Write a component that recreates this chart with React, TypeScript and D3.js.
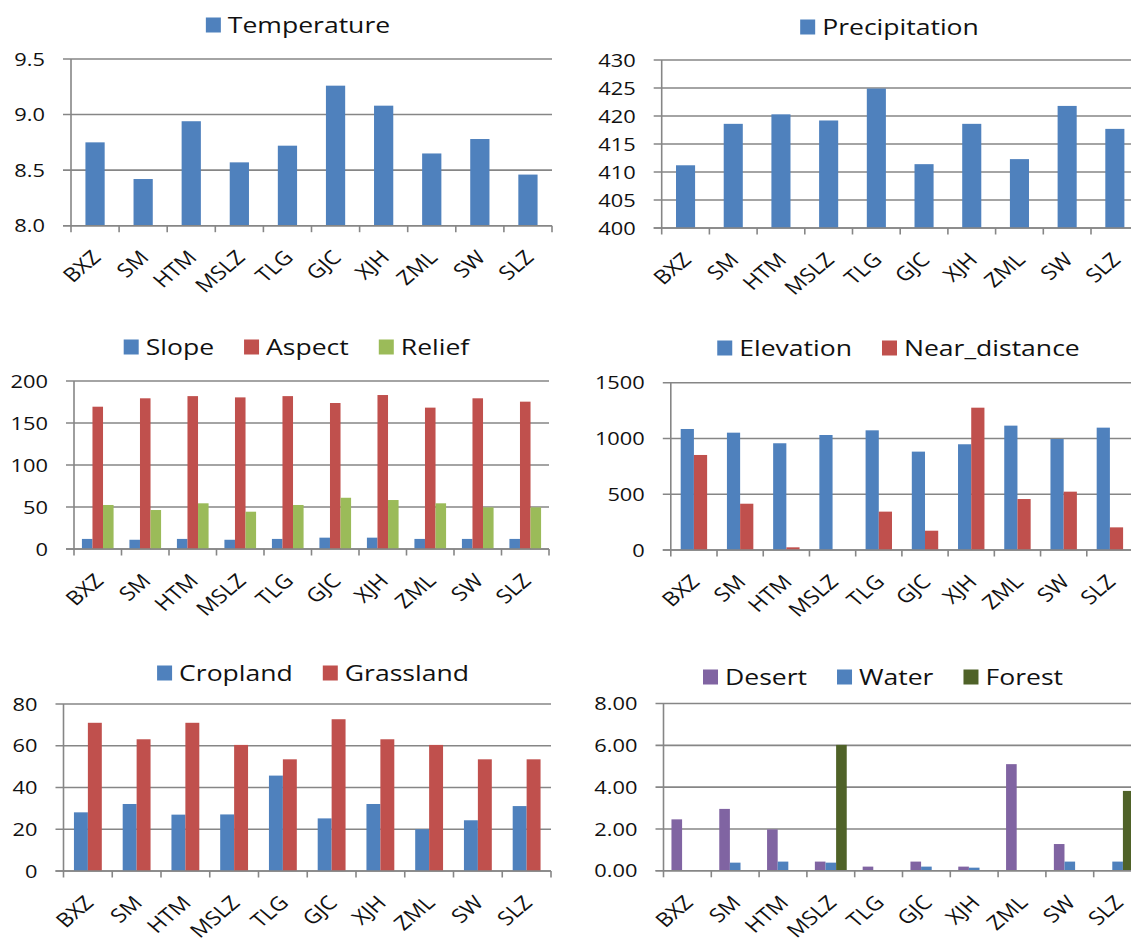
import React, { useEffect, useRef } from "react";
import * as d3 from "d3";

const categories = ["BXZ", "SM", "HTM", "MSLZ", "TLG", "GJC", "XJH", "ZML", "SW", "SLZ"];

const temperature = [8.75, 8.42, 8.94, 8.57, 8.72, 9.26, 9.08, 8.65, 8.78, 8.46];
const precipitation = [411.2, 418.6, 420.3, 419.2, 424.9, 411.4, 418.6, 412.3, 421.8, 417.7];
const slope = [12, 11, 12, 11, 12, 13.5, 13.5, 12, 12, 12];
const aspect = [169.4, 179.4, 182, 180.5, 182, 173.8, 183.3, 168.3, 179.4, 175.4];
const relief = [52.4, 46.4, 54.4, 44.4, 52.4, 61, 58.3, 54.4, 49.6, 49.6];
const elevation = [1085, 1052, 957, 1031, 1073, 882, 948, 1115, 995, 1097];
const nearDistance = [852, 415, 24, 0, 344, 173, 1276, 457, 523, 203];
const cropland = [28.1, 32.1, 27, 27.1, 45.7, 25.2, 32.1, 20, 24.3, 31.1];
const grassland = [71, 63.1, 71, 60.4, 53.5, 72.7, 63.1, 60.4, 53.5, 53.5];
const desert = [2.46, 2.96, 1.98, 0.44, 0.2, 0.44, 0.2, 5.1, 1.28, 0];
const water = [0, 0.39, 0.44, 0.39, 0, 0.2, 0.15, 0, 0.44, 0.44];
const forest = [0, 0, 0, 6.02, 0, 0, 0, 0, 0, 3.82];

const temperatureTicks = [8.0, 8.5, 9.0, 9.5];
const precipitationTicks = [400, 405, 410, 415, 420, 425, 430];
const terrainTicks = [0, 50, 100, 150, 200];
const elevationTicks = [0, 500, 1000, 1500];
const landTicks = [0, 20, 40, 60, 80];
const minorLandTicks = [0, 2, 4, 6, 8];

const BLUE = "#4F81BD";
const RED = "#C0504D";
const GREEN = "#9BBB59";
const PURPLE = "#8064A2";
const DKGREEN = "#4F6228";

const FONT = "'Open Sans', 'Liberation Sans', sans-serif";
const STRETCH = 1.18;
const GRID = "#868686";
const INK = "#111111";

type Series = { name: string; values: number[]; color: string };
type Panel = {
  left: number; right: number; top: number; bottom: number;
  ticks: number[]; fmt: string; legendY: number; legendCx: number;
  series: Series[];
};

const panels: Panel[] = [
  { left: 71, right: 552, top: 59, bottom: 225.7, ticks: temperatureTicks, fmt: ".1f", legendY: 25, legendCx: 298,
    series: [{ name: "Temperature", values: temperature, color: BLUE }] },
  { left: 661.7, right: 1138.7, top: 60, bottom: 228, ticks: precipitationTicks, fmt: "d", legendY: 27, legendCx: 889.5,
    series: [{ name: "Precipitation", values: precipitation, color: BLUE }] },
  { left: 74, right: 549, top: 381, bottom: 549, ticks: terrainTicks, fmt: "d", legendY: 347, legendCx: 296.5,
    series: [
      { name: "Slope", values: slope, color: BLUE },
      { name: "Aspect", values: aspect, color: RED },
      { name: "Relief", values: relief, color: GREEN },
    ] },
  { left: 670.8, right: 1133, top: 382.7, bottom: 550, ticks: elevationTicks, fmt: "d", legendY: 348, legendCx: 898.5,
    series: [
      { name: "Elevation", values: elevation, color: BLUE },
      { name: "Near_distance", values: nearDistance, color: RED },
    ] },
  { left: 63.5, right: 551, top: 704, bottom: 871, ticks: landTicks, fmt: "d", legendY: 673, legendCx: 313,
    series: [
      { name: "Cropland", values: cropland, color: BLUE },
      { name: "Grassland", values: grassland, color: RED },
    ] },
  { left: 663.5, right: 1141.5, top: 703.5, bottom: 870.8, ticks: minorLandTicks, fmt: ".2f", legendY: 677, legendCx: 883,
    series: [
      { name: "Desert", values: desert, color: PURPLE },
      { name: "Water", values: water, color: BLUE },
      { name: "Forest", values: forest, color: DKGREEN },
    ] },
];

function drawPanel(svg: d3.Selection<SVGSVGElement, unknown, null, undefined>, p: Panel) {
  const g = svg.append("g");
  const domain = [p.ticks[0], p.ticks[p.ticks.length - 1]];
  const y = d3.scaleLinear().domain(domain).range([p.bottom, p.top]);
  const x = d3.scaleBand<string>().domain(categories).range([p.left, p.right]).paddingInner(0).paddingOuter(0);
  const n = p.series.length;
  const groupW = x.bandwidth() * n / (n + 1.5);
  const inner = d3.scaleBand<number>().domain(d3.range(n)).range([-groupW / 2, groupW / 2]);

  // gridlines + y tick labels
  const fmt = d3.format(p.fmt);
  p.ticks.forEach((t) => {
    g.append("line")
      .attr("x1", p.left - 8).attr("x2", p.right)
      .attr("y1", y(t)).attr("y2", y(t))
      .attr("stroke", GRID).attr("stroke-width", 1.6);
    g.append("g")
      .attr("transform", `translate(${p.left - 26},${y(t)}) scale(${STRETCH},1)`)
      .append("text")
      .attr("text-anchor", "end").attr("dy", "0.36em")
      .attr("font-family", FONT).attr("font-size", 18.5).attr("fill", INK)
      .text(fmt(t));
  });

  // bars
  p.series.forEach((s, si) => {
    g.append("g").selectAll("rect")
      .data(s.values.map((v, i) => ({ v, c: categories[i] })).filter((d) => d.v > domain[0]))
      .join("rect")
      .attr("x", (d) => (x(d.c) as number) + x.bandwidth() / 2 + (inner(si) as number))
      .attr("width", inner.bandwidth())
      .attr("y", (d) => y(d.v))
      .attr("height", (d) => y(domain[0]) - y(d.v))
      .attr("fill", s.color);
  });

  // axes
  g.append("line")
    .attr("x1", p.left).attr("x2", p.left).attr("y1", p.top).attr("y2", p.bottom)
    .attr("stroke", GRID).attr("stroke-width", 1.6);
  g.append("line")
    .attr("x1", p.left - 8).attr("x2", p.right).attr("y1", p.bottom).attr("y2", p.bottom)
    .attr("stroke", GRID).attr("stroke-width", 1.6);
  const bounds = categories.map((c) => x(c) as number).concat([p.right]);
  bounds.forEach((bx) => {
    g.append("line")
      .attr("x1", bx).attr("x2", bx).attr("y1", p.bottom).attr("y2", p.bottom + 6.5)
      .attr("stroke", GRID).attr("stroke-width", 1.6);
  });

  // x labels
  categories.forEach((c) => {
    const cx = (x(c) as number) + x.bandwidth() / 2;
    g.append("g")
      .attr("transform", `translate(${cx + 7},${p.bottom + 33}) scale(${STRETCH},1) rotate(-45)`)
      .append("text")
      .attr("text-anchor", "end")
      .attr("font-family", FONT).attr("font-size", 19.5).attr("fill", INK)
      .text(c);
  });

  // legend
  const lg = g.append("g");
  let cursor = 0;
  const sq = 15;
  p.series.forEach((s, si) => {
    lg.append("rect")
      .attr("x", cursor).attr("y", p.legendY - sq / 2)
      .attr("width", sq).attr("height", sq).attr("fill", s.color);
    cursor += sq + 7;
    const tg = lg.append("g").attr("transform", `translate(${cursor},${p.legendY}) scale(${STRETCH},1)`);
    const t = tg.append("text")
      .attr("dy", "0.36em")
      .attr("font-family", FONT).attr("font-size", 22.5).attr("fill", INK)
      .text(s.name);
    const w = (t.node() as SVGTextElement).getComputedTextLength() * STRETCH;
    cursor += w;
    if (si < p.series.length - 1) cursor += 30;
  });
  lg.attr("transform", `translate(${p.legendCx - cursor / 2},0)`);
}

export default function App() {
  const ref = useRef<SVGSVGElement>(null);
  useEffect(() => {
    if (!ref.current) return;
    const svg = d3.select(ref.current);
    svg.selectAll("*").remove();
    panels.forEach((p) => drawPanel(svg, p));
  }, []);
  return (
    <svg
      ref={ref}
      width={1131}
      height={938}
      style={{ position: "absolute", left: 0, top: 0, background: "#ffffff" }}
    />
  );
}
